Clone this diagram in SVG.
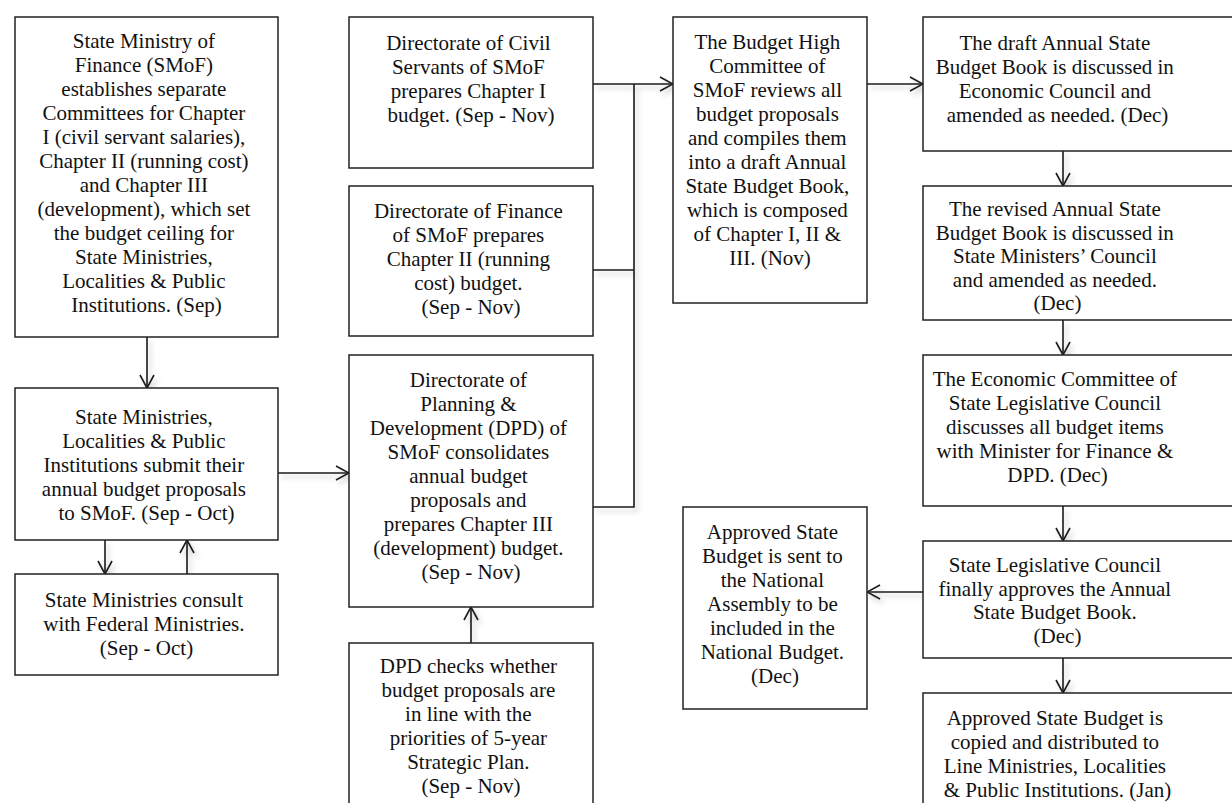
<svg xmlns="http://www.w3.org/2000/svg" width="1232" height="803" viewBox="0 0 1232 803">
  <style>
    .box { fill: #ffffff; stroke: #222222; stroke-width: 1.5; }
    .lbl { font-family: "Liberation Serif", "DejaVu Serif", serif; font-size: 21px; fill: #111111; text-anchor: middle; }
    .wire { fill: none; stroke: #1c1c1c; stroke-width: 1.6; }
  </style>
  <defs>
    <filter id="soft" filterUnits="userSpaceOnUse" x="0" y="0" width="1232" height="803">
      <feDropShadow dx="3" dy="4" stdDeviation="2.5" flood-color="#000000" flood-opacity="0.22"/>
    </filter>
    <marker id="arr" viewBox="0 0 15 16" refX="14" refY="8" markerWidth="15" markerHeight="16" orient="auto" markerUnits="userSpaceOnUse">
      <path d="M1,1 L14,8 L1,15" fill="none" stroke="#1c1c1c" stroke-width="1.6"/>
    </marker>
  </defs>

  <rect width="1232" height="803" fill="#ffffff"/>

  <!-- connectors -->
  <g id="connectors" filter="url(#soft)">
    <path class="wire" d="M147,337 V388" marker-end="url(#arr)"/>
    <path class="wire" d="M105,540 V574" marker-end="url(#arr)"/>
    <path class="wire" d="M187,574 V540" marker-end="url(#arr)"/>
    <path class="wire" d="M278,473 H349" marker-end="url(#arr)"/>
    <path class="wire" d="M471,643 V607" marker-end="url(#arr)"/>
    <path class="wire" d="M593,84 H673" marker-end="url(#arr)"/>
    <path class="wire" d="M593,270 H634"/>
    <path class="wire" d="M593,507 H634 V84"/>
    <path class="wire" d="M867,84 H923" marker-end="url(#arr)"/>
    <path class="wire" d="M1063,151 V186" marker-end="url(#arr)"/>
    <path class="wire" d="M1063,320 V355" marker-end="url(#arr)"/>
    <path class="wire" d="M1063,506 V541" marker-end="url(#arr)"/>
    <path class="wire" d="M1063,658 V693" marker-end="url(#arr)"/>
    <path class="wire" d="M923,592 H867" marker-end="url(#arr)"/>
  </g>

  <!-- column 1 -->
  <g id="smof-committees">
    <rect class="box" x="15" y="17" width="263" height="320"/>
    <text class="lbl">
      <tspan x="146.5" y="48">State Ministry of</tspan>
      <tspan x="146.5" y="72">Finance (SMoF)</tspan>
      <tspan x="146.5" y="96">establishes separate</tspan>
      <tspan x="146.5" y="120">Committees for Chapter</tspan>
      <tspan x="146.5" y="144">I (civil servant salaries),</tspan>
      <tspan x="146.5" y="168">Chapter II (running cost)</tspan>
      <tspan x="146.5" y="192">and Chapter III</tspan>
      <tspan x="146.5" y="216">(development), which set</tspan>
      <tspan x="146.5" y="240">the budget ceiling for</tspan>
      <tspan x="146.5" y="264">State Ministries,</tspan>
      <tspan x="146.5" y="288">Localities &amp; Public</tspan>
      <tspan x="146.5" y="312">Institutions. (Sep)</tspan>
    </text>
  </g>

  <g id="submit-proposals">
    <rect class="box" x="15" y="388" width="263" height="152"/>
    <text class="lbl">
      <tspan x="146.5" y="424">State Ministries,</tspan>
      <tspan x="146.5" y="448">Localities &amp; Public</tspan>
      <tspan x="146.5" y="472">Institutions submit their</tspan>
      <tspan x="146.5" y="496">annual budget proposals</tspan>
      <tspan x="146.5" y="520">to SMoF. (Sep - Oct)</tspan>
    </text>
  </g>

  <g id="consult-federal">
    <rect class="box" x="15" y="574" width="263" height="101"/>
    <text class="lbl">
      <tspan x="146.5" y="607">State Ministries consult</tspan>
      <tspan x="146.5" y="631">with Federal Ministries.</tspan>
      <tspan x="146.5" y="655">(Sep - Oct)</tspan>
    </text>
  </g>

  <!-- column 2 -->
  <g id="chapter-1">
    <rect class="box" x="349" y="17" width="244" height="151"/>
    <text class="lbl">
      <tspan x="471" y="50">Directorate of Civil</tspan>
      <tspan x="471" y="74">Servants of SMoF</tspan>
      <tspan x="471" y="98">prepares Chapter I</tspan>
      <tspan x="471" y="122">budget. (Sep - Nov)</tspan>
    </text>
  </g>

  <g id="chapter-2">
    <rect class="box" x="349" y="186" width="244" height="150"/>
    <text class="lbl">
      <tspan x="471" y="218">Directorate of Finance</tspan>
      <tspan x="471" y="242">of SMoF prepares</tspan>
      <tspan x="471" y="266">Chapter II (running</tspan>
      <tspan x="471" y="290">cost) budget.</tspan>
      <tspan x="471" y="314">(Sep - Nov)</tspan>
    </text>
  </g>

  <g id="chapter-3">
    <rect class="box" x="349" y="355" width="244" height="252"/>
    <text class="lbl">
      <tspan x="471" y="387">Directorate of</tspan>
      <tspan x="471" y="411">Planning &amp;</tspan>
      <tspan x="471" y="435">Development (DPD) of</tspan>
      <tspan x="471" y="459">SMoF consolidates</tspan>
      <tspan x="471" y="483">annual budget</tspan>
      <tspan x="471" y="507">proposals and</tspan>
      <tspan x="471" y="531">prepares Chapter III</tspan>
      <tspan x="471" y="555">(development) budget.</tspan>
      <tspan x="471" y="579">(Sep - Nov)</tspan>
    </text>
  </g>

  <g id="strategic-check">
    <rect class="box" x="349" y="643" width="244" height="170"/>
    <text class="lbl">
      <tspan x="471" y="673">DPD checks whether</tspan>
      <tspan x="471" y="697">budget proposals are</tspan>
      <tspan x="471" y="721">in line with the</tspan>
      <tspan x="471" y="745">priorities of 5-year</tspan>
      <tspan x="471" y="769">Strategic Plan.</tspan>
      <tspan x="471" y="793">(Sep - Nov)</tspan>
    </text>
  </g>

  <!-- column 3 -->
  <g id="high-committee">
    <rect class="box" x="673" y="17" width="194" height="286"/>
    <text class="lbl">
      <tspan x="770" y="49">The Budget High</tspan>
      <tspan x="770" y="73">Committee of</tspan>
      <tspan x="770" y="97">SMoF reviews all</tspan>
      <tspan x="770" y="121">budget proposals</tspan>
      <tspan x="770" y="145">and compiles them</tspan>
      <tspan x="770" y="169">into a draft Annual</tspan>
      <tspan x="770" y="193">State Budget Book,</tspan>
      <tspan x="770" y="217">which is composed</tspan>
      <tspan x="770" y="241">of Chapter I, II &amp;</tspan>
      <tspan x="770" y="265">III. (Nov)</tspan>
    </text>
  </g>

  <g id="national-assembly">
    <rect class="box" x="683" y="507" width="184" height="202"/>
    <text class="lbl">
      <tspan x="775" y="539">Approved State</tspan>
      <tspan x="775" y="563">Budget is sent to</tspan>
      <tspan x="775" y="587">the National</tspan>
      <tspan x="775" y="611">Assembly to be</tspan>
      <tspan x="775" y="635">included in the</tspan>
      <tspan x="775" y="659">National Budget.</tspan>
      <tspan x="775" y="683">(Dec)</tspan>
    </text>
  </g>

  <!-- column 4 -->
  <g id="economic-council">
    <rect class="box" x="923" y="17" width="320" height="134"/>
    <text class="lbl">
      <tspan x="1057.5" y="50">The draft Annual State</tspan>
      <tspan x="1057.5" y="74">Budget Book is discussed in</tspan>
      <tspan x="1057.5" y="98">Economic Council and</tspan>
      <tspan x="1057.5" y="122">amended as needed. (Dec)</tspan>
    </text>
  </g>

  <g id="ministers-council">
    <rect class="box" x="923" y="186" width="320" height="134"/>
    <text class="lbl">
      <tspan x="1057.5" y="216">The revised Annual State</tspan>
      <tspan x="1057.5" y="239.5">Budget Book is discussed in</tspan>
      <tspan x="1057.5" y="263">State Ministers’ Council</tspan>
      <tspan x="1057.5" y="286.5">and amended as needed.</tspan>
      <tspan x="1057.5" y="310">(Dec)</tspan>
    </text>
  </g>

  <g id="economic-committee">
    <rect class="box" x="923" y="355" width="320" height="151"/>
    <text class="lbl">
      <tspan x="1057.5" y="386">The Economic Committee of</tspan>
      <tspan x="1057.5" y="410">State Legislative Council</tspan>
      <tspan x="1057.5" y="434">discusses all budget items</tspan>
      <tspan x="1057.5" y="458">with Minister for Finance &amp;</tspan>
      <tspan x="1057.5" y="482">DPD. (Dec)</tspan>
    </text>
  </g>

  <g id="legislative-approval">
    <rect class="box" x="923" y="541" width="320" height="117"/>
    <text class="lbl">
      <tspan x="1057.5" y="572">State Legislative Council</tspan>
      <tspan x="1057.5" y="595.5">finally approves the Annual</tspan>
      <tspan x="1057.5" y="619">State Budget Book.</tspan>
      <tspan x="1057.5" y="642.5">(Dec)</tspan>
    </text>
  </g>

  <g id="distribution">
    <rect class="box" x="923" y="693" width="320" height="120"/>
    <text class="lbl">
      <tspan x="1057.5" y="725">Approved State Budget is</tspan>
      <tspan x="1057.5" y="749">copied and distributed to</tspan>
      <tspan x="1057.5" y="773">Line Ministries, Localities</tspan>
      <tspan x="1057.5" y="797">&amp; Public Institutions. (Jan)</tspan>
    </text>
  </g>
</svg>
